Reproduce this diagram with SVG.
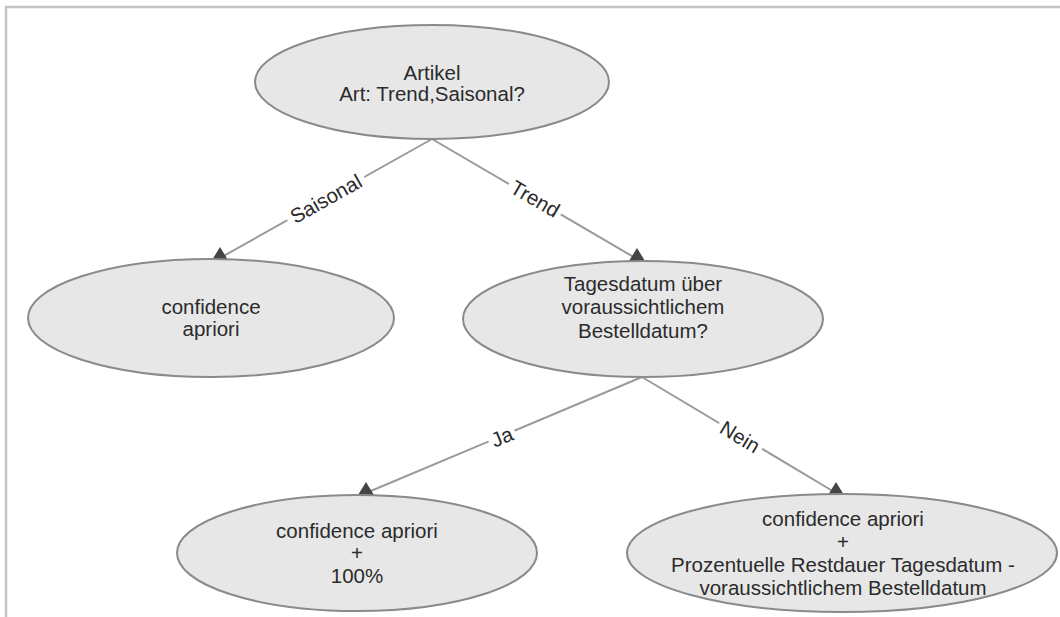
<svg xmlns="http://www.w3.org/2000/svg" width="1060" height="617" viewBox="0 0 1060 617">
  <style>
    .frame { fill: none; stroke: #c4c4c4; stroke-width: 2.5; }
    .node ellipse { fill: #e7e7e7; stroke: #8a8a8a; stroke-width: 2; }
    .node text, .label text { font-family: "Liberation Sans", Arial, sans-serif; font-size: 20.5px; fill: #2b2b2b; text-anchor: middle; }
    .edge { stroke: #9a9a9a; stroke-width: 2; fill: none; }
    .head { fill: #454545; }
    .label rect { fill: #ffffff; }
  </style>

  <!-- page frame -->
  <path class="frame" d="M6 617 V7 H1060"/>

  <!-- connectors -->
  <g id="connectors">
    <line class="edge" x1="432" y1="139" x2="220" y2="258"/>
    <line class="edge" x1="432" y1="139" x2="637" y2="259"/>
    <line class="edge" x1="642" y1="377" x2="366" y2="493"/>
    <line class="edge" x1="642" y1="377" x2="836" y2="493"/>

    <polygon class="head" points="220,247 212,260 228,260"/>
    <polygon class="head" points="637,248 629,261 645,261"/>
    <polygon class="head" points="366,482 358,495 374,495"/>
    <polygon class="head" points="836,482 828,495 844,495"/>

    <g class="label" transform="translate(326,199) rotate(-29.3)">
      <rect x="-44" y="-11" width="88" height="22"/>
      <text x="0" y="7">Saisonal</text>
    </g>
    <g class="label" transform="translate(535,199) rotate(30.3)">
      <rect x="-30" y="-11" width="60" height="22"/>
      <text x="0" y="7">Trend</text>
    </g>
    <g class="label" transform="translate(502,437) rotate(-23)">
      <rect x="-14" y="-11" width="28" height="22"/>
      <text x="0" y="7">Ja</text>
    </g>
    <g class="label" transform="translate(740,437) rotate(31.2)">
      <rect x="-25" y="-11" width="50" height="22"/>
      <text x="0" y="7">Nein</text>
    </g>
  </g>

  <!-- nodes -->
  <g id="artikel" class="node">
    <ellipse cx="432" cy="82" rx="177" ry="57"/>
    <text x="432" y="80">Artikel</text>
    <text x="432" y="101">Art: Trend,Saisonal?</text>
  </g>

  <g id="saisonal" class="node">
    <ellipse cx="211" cy="318" rx="183" ry="59"/>
    <text x="211" y="314">confidence</text>
    <text x="211" y="336">apriori</text>
  </g>

  <g id="tagesdatum" class="node">
    <ellipse cx="643" cy="319" rx="180" ry="58"/>
    <text x="643" y="291">Tagesdatum über</text>
    <text x="643" y="314">voraussichtlichem</text>
    <text x="643" y="338">Bestelldatum?</text>
  </g>

  <g id="ja" class="node">
    <ellipse cx="357" cy="553" rx="180" ry="58"/>
    <text x="357" y="538">confidence apriori</text>
    <text x="357" y="560">+</text>
    <text x="357" y="583">100%</text>
  </g>

  <g id="nein" class="node">
    <ellipse cx="842" cy="553" rx="215" ry="59"/>
    <text x="843" y="526">confidence apriori</text>
    <text x="843" y="549">+</text>
    <text x="843" y="572">Prozentuelle Restdauer Tagesdatum -</text>
    <text x="843" y="595">voraussichtlichem Bestelldatum</text>
  </g>
</svg>
